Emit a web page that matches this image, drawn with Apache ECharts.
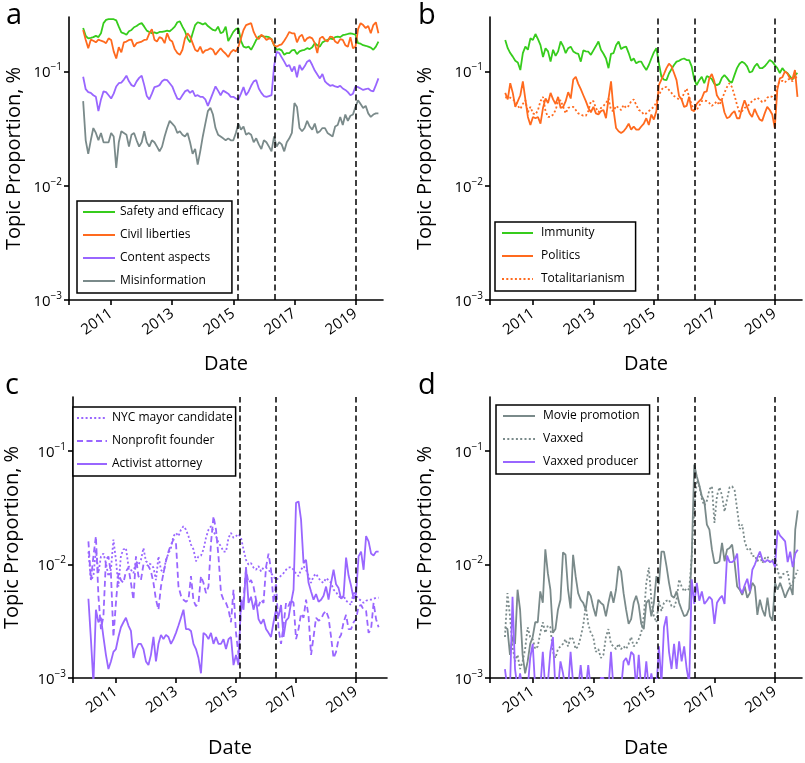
<!DOCTYPE html>
<html><head><meta charset="utf-8">
<script src="https://cdn.jsdelivr.net/npm/echarts@6/dist/echarts.min.js"></script>
<style>html,body{margin:0;padding:0;background:#fff}#c{width:805px;height:763px}</style>
</head><body><div id="c"></div>
<script>
// ---------------- data ----------------
const startYear = 2010, startMonth = 2;          // monthly series start Feb 2010
const eventDates = [2015.13, 2016.34, 2019.0];   // dashed vertical lines
const yearLabels = [2011, 2013, 2015, 2017, 2019];
const yTicks = [0.001, 0.01, 0.1];

// panel a
const safety = [0.24,0.205,0.195,0.197,0.2,0.205,0.2,0.216,0.265,0.283,0.287,0.287,0.287,0.28,0.247,0.22,0.216,0.21,0.225,0.231,0.244,0.25,0.26,0.265,0.247,0.228,0.222,0.216,0.22,0.216,0.222,0.222,0.225,0.228,0.225,0.235,0.247,0.27,0.275,0.247,0.225,0.195,0.18,0.216,0.255,0.27,0.265,0.258,0.265,0.25,0.24,0.231,0.228,0.247,0.216,0.222,0.247,0.185,0.202,0.222,0.235,0.24,0.185,0.165,0.162,0.165,0.155,0.17,0.189,0.202,0.205,0.202,0.202,0.2,0.192,0.17,0.155,0.157,0.153,0.14,0.145,0.145,0.153,0.155,0.142,0.15,0.153,0.155,0.16,0.157,0.163,0.177,0.17,0.165,0.18,0.185,0.189,0.195,0.192,0.2,0.202,0.2,0.208,0.21,0.213,0.216,0.213,0.21,0.177,0.175,0.17,0.168,0.165,0.162,0.155,0.165,0.183];
const civil = [0.231,0.19,0.16,0.19,0.186,0.18,0.19,0.186,0.183,0.177,0.195,0.189,0.15,0.13,0.163,0.147,0.18,0.183,0.189,0.19,0.165,0.177,0.18,0.183,0.189,0.19,0.216,0.235,0.19,0.183,0.2,0.195,0.177,0.216,0.19,0.183,0.157,0.145,0.14,0.155,0.195,0.216,0.202,0.177,0.155,0.15,0.165,0.145,0.153,0.155,0.16,0.155,0.14,0.15,0.16,0.15,0.143,0.134,0.147,0.155,0.15,0.165,0.195,0.231,0.255,0.26,0.265,0.222,0.2,0.192,0.21,0.202,0.189,0.195,0.192,0.17,0.165,0.17,0.173,0.186,0.202,0.222,0.216,0.216,0.18,0.202,0.21,0.183,0.195,0.2,0.195,0.177,0.145,0.195,0.202,0.189,0.183,0.202,0.2,0.183,0.177,0.192,0.189,0.17,0.165,0.2,0.16,0.165,0.235,0.265,0.255,0.24,0.25,0.216,0.255,0.27,0.216];
const content = [0.09,0.07,0.066,0.065,0.062,0.06,0.045,0.057,0.067,0.066,0.062,0.058,0.064,0.074,0.079,0.08,0.085,0.092,0.082,0.076,0.074,0.082,0.088,0.092,0.076,0.061,0.057,0.064,0.073,0.074,0.076,0.082,0.085,0.084,0.079,0.074,0.065,0.058,0.057,0.062,0.067,0.069,0.065,0.068,0.061,0.062,0.06,0.06,0.057,0.05,0.057,0.065,0.074,0.068,0.062,0.068,0.066,0.064,0.06,0.06,0.058,0.057,0.064,0.073,0.062,0.067,0.075,0.082,0.084,0.071,0.065,0.061,0.06,0.061,0.062,0.111,0.149,0.145,0.133,0.122,0.111,0.114,0.1,0.111,0.089,0.114,0.103,0.111,0.122,0.126,0.114,0.102,0.094,0.087,0.095,0.082,0.078,0.075,0.076,0.074,0.073,0.075,0.071,0.069,0.066,0.062,0.064,0.074,0.073,0.071,0.069,0.07,0.071,0.068,0.067,0.076,0.087];
const misinfo = [0.055,0.025,0.019,0.025,0.032,0.029,0.025,0.029,0.024,0.024,0.024,0.029,0.027,0.0143,0.024,0.03,0.029,0.028,0.022,0.028,0.029,0.025,0.022,0.024,0.03,0.024,0.022,0.025,0.024,0.022,0.02,0.022,0.027,0.032,0.037,0.035,0.033,0.029,0.03,0.028,0.027,0.029,0.024,0.019,0.021,0.0153,0.02,0.027,0.035,0.045,0.048,0.042,0.032,0.028,0.027,0.026,0.025,0.026,0.025,0.025,0.029,0.035,0.031,0.033,0.028,0.029,0.028,0.024,0.026,0.023,0.021,0.025,0.024,0.022,0.02,0.027,0.022,0.024,0.023,0.02,0.024,0.026,0.029,0.053,0.049,0.032,0.03,0.032,0.037,0.033,0.031,0.035,0.029,0.03,0.032,0.032,0.029,0.028,0.027,0.033,0.034,0.04,0.034,0.042,0.037,0.041,0.042,0.049,0.056,0.052,0.048,0.05,0.043,0.04,0.042,0.043,0.043];

// panel b
const immunity = [0.189,0.16,0.145,0.135,0.124,0.12,0.103,0.145,0.165,0.155,0.195,0.189,0.213,0.192,0.17,0.134,0.16,0.15,0.122,0.155,0.137,0.15,0.183,0.167,0.145,0.16,0.165,0.15,0.145,0.143,0.122,0.153,0.15,0.149,0.14,0.153,0.167,0.183,0.155,0.143,0.13,0.107,0.143,0.145,0.17,0.183,0.157,0.163,0.165,0.145,0.124,0.13,0.118,0.122,0.122,0.111,0.103,0.114,0.13,0.147,0.16,0.118,0.09,0.085,0.084,0.096,0.105,0.114,0.122,0.124,0.128,0.13,0.126,0.126,0.111,0.086,0.076,0.084,0.09,0.079,0.091,0.089,0.086,0.078,0.076,0.078,0.088,0.093,0.088,0.082,0.08,0.093,0.107,0.117,0.122,0.118,0.111,0.098,0.1,0.111,0.117,0.107,0.107,0.111,0.118,0.126,0.122,0.114,0.107,0.097,0.107,0.1,0.097,0.091,0.085,0.093,0.097];
const politics = [0.065,0.057,0.079,0.065,0.049,0.055,0.062,0.082,0.057,0.04,0.034,0.04,0.039,0.04,0.035,0.048,0.058,0.053,0.065,0.057,0.052,0.06,0.048,0.049,0.055,0.066,0.058,0.085,0.09,0.078,0.07,0.062,0.055,0.048,0.044,0.049,0.043,0.042,0.045,0.046,0.039,0.058,0.082,0.046,0.032,0.03,0.029,0.03,0.032,0.035,0.031,0.033,0.031,0.031,0.033,0.035,0.039,0.034,0.042,0.038,0.045,0.076,0.085,0.095,0.107,0.117,0.111,0.097,0.084,0.061,0.057,0.049,0.05,0.06,0.046,0.045,0.052,0.055,0.058,0.066,0.067,0.087,0.095,0.082,0.062,0.057,0.056,0.044,0.039,0.04,0.043,0.045,0.039,0.039,0.048,0.056,0.049,0.043,0.04,0.047,0.042,0.038,0.037,0.043,0.049,0.046,0.042,0.032,0.069,0.087,0.089,0.1,0.096,0.087,0.086,0.103,0.06];
const totalitarianism = [0.059,0.06,0.059,0.057,0.055,0.05,0.047,0.052,0.056,0.044,0.049,0.043,0.042,0.046,0.055,0.06,0.045,0.04,0.04,0.042,0.046,0.055,0.056,0.049,0.043,0.048,0.049,0.049,0.046,0.043,0.042,0.041,0.041,0.045,0.055,0.055,0.048,0.044,0.048,0.05,0.053,0.058,0.046,0.045,0.05,0.048,0.046,0.051,0.048,0.05,0.055,0.057,0.051,0.046,0.045,0.042,0.043,0.045,0.047,0.049,0.054,0.062,0.069,0.073,0.073,0.069,0.065,0.061,0.059,0.057,0.057,0.065,0.071,0.06,0.051,0.046,0.046,0.05,0.055,0.056,0.055,0.053,0.05,0.052,0.055,0.051,0.057,0.065,0.073,0.079,0.073,0.062,0.051,0.044,0.045,0.048,0.049,0.052,0.055,0.057,0.059,0.057,0.054,0.055,0.059,0.061,0.06,0.057,0.076,0.082,0.083,0.08,0.085,0.086,0.082,0.092,0.085];

// panel c
const nycMayor = [0.013,0.0073,0.0079,0.0136,0.0084,0.0118,0.0125,0.0103,0.0079,0.009,0.0166,0.011,0.0064,0.012,0.0136,0.014,0.0097,0.009,0.0084,0.0107,0.01,0.011,0.014,0.0107,0.0103,0.01,0.0094,0.0073,0.0118,0.009,0.0084,0.011,0.0125,0.014,0.0178,0.019,0.0178,0.0203,0.0218,0.0203,0.0178,0.015,0.0136,0.0107,0.0118,0.012,0.0136,0.0172,0.0203,0.0218,0.0196,0.0178,0.0155,0.0145,0.013,0.013,0.0172,0.019,0.0172,0.0178,0.0186,0.0172,0.0136,0.011,0.01,0.0103,0.0094,0.009,0.0097,0.0087,0.0094,0.0094,0.009,0.0084,0.0079,0.0073,0.0076,0.008,0.0084,0.009,0.0094,0.0095,0.009,0.0083,0.0079,0.009,0.0097,0.009,0.0079,0.0069,0.0079,0.0083,0.0076,0.0071,0.0069,0.0076,0.0073,0.0069,0.006,0.0057,0.0053,0.005,0.0053,0.0048,0.0046,0.0044,0.0058,0.0053,0.005,0.0048,0.0046,0.0048,0.0049,0.0049,0.005,0.0051,0.0051];
const nonprofit = [0.016,0.0073,0.0118,0.0178,0.0053,0.0027,0.0035,0.011,0.0118,0.0084,0.0023,0.0046,0.0084,0.0073,0.0069,0.0087,0.0094,0.0069,0.0049,0.0118,0.0079,0.0073,0.01,0.01,0.0097,0.0087,0.0069,0.0049,0.004,0.0064,0.0084,0.0107,0.013,0.015,0.0166,0.0155,0.0064,0.0053,0.0049,0.0047,0.0049,0.0079,0.0048,0.0043,0.0046,0.0079,0.0069,0.0056,0.0064,0.0155,0.0267,0.0203,0.0118,0.0056,0.0049,0.0046,0.004,0.0031,0.006,0.0025,0.0016,0.004,0.0049,0.009,0.0069,0.0073,0.0064,0.0049,0.0043,0.0049,0.0046,0.0095,0.0125,0.009,0.0046,0.0069,0.0027,0.002,0.0029,0.0046,0.0043,0.0049,0.0046,0.0022,0.0027,0.0037,0.0034,0.0049,0.0035,0.0016,0.0023,0.0034,0.0032,0.0033,0.0037,0.0039,0.0034,0.0023,0.0015,0.0017,0.0022,0.0024,0.0031,0.0036,0.0027,0.0027,0.0031,0.0033,0.0043,0.0044,0.004,0.0039,0.0025,0.0027,0.0046,0.0033,0.0028];
const activist = [0.005,0.0022,0.0009,0.004,0.0031,0.0034,0.0023,0.0016,0.0012,0.0014,0.0017,0.0018,0.0023,0.0028,0.0031,0.0034,0.0029,0.0026,0.0015,0.0018,0.002,0.002,0.0018,0.0014,0.0013,0.0016,0.0023,0.0014,0.002,0.0024,0.0022,0.0024,0.0023,0.002,0.0022,0.0025,0.0029,0.0034,0.004,0.0027,0.0027,0.0026,0.002,0.0018,0.0015,0.0011,0.0025,0.0024,0.0022,0.0025,0.002,0.0023,0.002,0.002,0.0022,0.0018,0.0022,0.0023,0.0013,0.0016,0.0013,0.0049,0.004,0.0095,0.0046,0.0052,0.004,0.0049,0.0033,0.003,0.0033,0.0027,0.0025,0.0023,0.0031,0.004,0.0035,0.0044,0.0023,0.0032,0.0034,0.0046,0.006,0.035,0.036,0.0249,0.0103,0.011,0.0069,0.0058,0.0049,0.0055,0.0047,0.0049,0.0053,0.0064,0.0049,0.0069,0.009,0.0067,0.0062,0.005,0.0053,0.0115,0.008,0.0065,0.005,0.0055,0.0118,0.013,0.009,0.0178,0.016,0.0125,0.012,0.013,0.013];

// panel d
const moviePromo = [0.0028,0.0027,0.0016,0.0023,0.002,0.006,0.004,0.0016,0.0011,0.0014,0.002,0.0023,0.0031,0.0031,0.0058,0.0046,0.0136,0.0084,0.006,0.0025,0.0027,0.004,0.0049,0.0128,0.0122,0.006,0.0041,0.0122,0.0079,0.0056,0.0049,0.0046,0.004,0.0058,0.0053,0.0042,0.0035,0.0049,0.0046,0.0044,0.0035,0.0046,0.0058,0.0046,0.006,0.0097,0.0087,0.0056,0.004,0.003,0.0033,0.0046,0.0053,0.0044,0.003,0.0027,0.0046,0.0049,0.0035,0.0046,0.0079,0.0067,0.013,0.013,0.0097,0.0069,0.0053,0.0051,0.0058,0.0046,0.004,0.0035,0.0036,0.0041,0.0118,0.076,0.06,0.05,0.04,0.036,0.0225,0.0203,0.0136,0.0103,0.0103,0.0107,0.0155,0.0107,0.0136,0.014,0.015,0.0103,0.0064,0.006,0.0054,0.0064,0.0051,0.0056,0.0069,0.0064,0.0036,0.0049,0.004,0.0035,0.0051,0.0035,0.0032,0.0069,0.006,0.0069,0.006,0.0051,0.0058,0.0064,0.0054,0.0203,0.03];
const vaxxed = [0.0023,0.0056,0.0035,0.0019,0.0014,0.0016,0.0012,0.0014,0.0018,0.0028,0.0023,0.0022,0.0018,0.0019,0.0025,0.0031,0.0025,0.0029,0.0028,0.0017,0.0015,0.0018,0.0019,0.002,0.0022,0.0019,0.0023,0.0022,0.0018,0.0019,0.0023,0.0029,0.0043,0.003,0.0025,0.0023,0.0017,0.0018,0.0015,0.0016,0.0023,0.0027,0.002,0.0019,0.0018,0.002,0.0018,0.0019,0.0018,0.002,0.0023,0.0019,0.002,0.0022,0.0025,0.0035,0.0069,0.0094,0.0049,0.0035,0.0031,0.0048,0.0039,0.0046,0.0048,0.0049,0.0043,0.0042,0.0049,0.0074,0.0064,0.0058,0.0062,0.006,0.0118,0.0306,0.055,0.049,0.0378,0.0331,0.0365,0.046,0.049,0.0233,0.0405,0.048,0.0405,0.0293,0.0376,0.048,0.049,0.045,0.0306,0.0206,0.0225,0.016,0.0136,0.014,0.0118,0.012,0.0107,0.0118,0.0103,0.0114,0.0118,0.0105,0.0109,0.0118,0.009,0.0074,0.0082,0.0084,0.0087,0.0064,0.0069,0.0079,0.009];
const vaxxedProducer = [0.0012,0.0008,0.0008,0.0052,0.0012,0.0008,0.0011,0.0008,0.0008,0.0008,0.0015,0.002,0.0008,0.0008,0.0008,0.0017,0.0008,0.0009,0.0017,0.0023,0.0008,0.0008,0.0014,0.0011,0.0008,0.0008,0.0017,0.0009,0.0008,0.0008,0.0013,0.0008,0.0008,0.0013,0.0008,0.0008,0.0008,0.0008,0.001,0.001,0.0008,0.0008,0.0017,0.0008,0.0008,0.0008,0.0008,0.0014,0.0015,0.0013,0.0017,0.0016,0.0008,0.0016,0.0008,0.0008,0.0014,0.0008,0.0011,0.0008,0.0008,0.0019,0.0009,0.0028,0.0035,0.0017,0.0012,0.002,0.0012,0.0021,0.0014,0.0019,0.0012,0.0009,0.0074,0.0045,0.0069,0.0048,0.0058,0.0045,0.0048,0.0052,0.0049,0.003,0.0046,0.005,0.0053,0.0045,0.012,0.0105,0.0105,0.011,0.0125,0.0062,0.0056,0.0066,0.0075,0.0058,0.009,0.01,0.0115,0.013,0.011,0.0105,0.011,0.0105,0.0108,0.0095,0.02,0.018,0.017,0.016,0.0105,0.013,0.0095,0.0125,0.0135];

// ---------------- styling ----------------
const FONT = '"Open Sans", "Noto Sans", sans-serif';
const GREEN = '#36cc1c', ORANGE = '#ff6a1e', PURPLE = '#9966ff', GRAY = '#7a8a8a';
const DOT = [2, 2.3], DASH = [6, 3.5];

function withDates(vals) {
  return vals.map((v, i) => [startYear + (startMonth - 1 + i) / 12, v]);
}

const panels = [
  { letter: 'a', letterPos: [6, 1], grid: { left: 69, top: 17, width: 314, height: 283 },
    xr: [2009.62, 2019.9], gapY: 45, gapX: 54, legendPos: [77, 201],
    legendPad: [4, 8, 5, 5], legendIconW: 32, legendTextPad: 0,
    series: [['Safety and efficacy', safety, GREEN, 'solid'], ['Civil liberties', civil, ORANGE, 'solid'],
             ['Content aspects', content, PURPLE, 'solid'], ['Misinformation', misinfo, GRAY, 'solid']] },
  { letter: 'b', letterPos: [418, 1], grid: { left: 490, top: 17, width: 312, height: 283 },
    xr: [2009.58, 2019.9], gapY: 55, gapX: 54, legendPos: [495, 222],
    legendPad: [4, 11, 5, 6], legendIconW: 31, legendTextPad: 3,
    series: [['Immunity', immunity, GREEN, 'solid'], ['Politics', politics, ORANGE, 'solid'],
             ['Totalitarianism', totalitarianism, ORANGE, DOT]] },
  { letter: 'c', letterPos: [5, 371], grid: { left: 73, top: 397, width: 314, height: 281 },
    xr: [2009.57, 2020.03], gapY: 51, gapX: 60, legendPos: [73, 407],
    legendPad: [4, 3, 5, 3], legendIconW: 30, legendTextPad: 0,
    series: [['NYC mayor candidate', nycMayor, PURPLE, DOT], ['Nonprofit founder', nonprofit, PURPLE, DASH],
             ['Activist attorney', activist, PURPLE, 'solid']] },
  { letter: 'd', letterPos: [418, 371], grid: { left: 490, top: 397, width: 312, height: 281 },
    xr: [2009.59, 2019.89], gapY: 55, gapX: 60, legendPos: [496, 405],
    legendPad: [4, 10, 5, 6], legendIconW: 32, legendTextPad: 3,
    series: [['Movie promotion', moviePromo, GRAY, 'solid'], ['Vaxxed', vaxxed, GRAY, DOT],
             ['Vaxxed producer', vaxxedProducer, PURPLE, 'solid']] }
];

const option = {
  animation: false,
  backgroundColor: '#fff',
  textStyle: { fontFamily: FONT, color: '#000' },
  title: panels.map(p => ({ text: p.letter, left: p.letterPos[0], top: p.letterPos[1], padding: 0,
    textStyle: { fontFamily: FONT, fontSize: 29, fontWeight: 'normal', color: '#000' } })),
  grid: panels.map(p => Object.assign({ containLabel: false, outerBoundsMode: 'none' }, p.grid)),
  xAxis: panels.map((p, i) => ({
    type: 'value', gridIndex: i, min: p.xr[0], max: p.xr[1],
    name: 'Date', nameLocation: 'middle', nameGap: p.gapX, nameMoveOverlap: false,
    nameTextStyle: { fontFamily: FONT, fontSize: 20, color: '#000' },
    axisLine: { show: true, onZero: false, lineStyle: { color: '#000', width: 1.6 } },
    axisTick: { show: true, inside: false, length: 5, customValues: [p.xr[0]].concat(yearLabels),
      lineStyle: { color: '#000', width: 1.6 } },
    axisLabel: { customValues: yearLabels, rotate: 35, fontSize: 15, fontFamily: FONT, color: '#000', margin: 12,
      formatter: v => String(Math.round(v)) },
    splitLine: { show: false }
  })),
  yAxis: panels.map((p, i) => ({
    type: 'log', logBase: 10, gridIndex: i, min: 0.001, max: 0.3,
    name: 'Topic Proportion, %', nameLocation: 'middle', nameGap: p.gapY, nameMoveOverlap: false,
    nameTextStyle: { fontFamily: FONT, fontSize: 20, color: '#000' },
    axisLine: { show: true, lineStyle: { color: '#000', width: 1.6 } },
    axisTick: { show: true, length: 5, customValues: yTicks, lineStyle: { color: '#000', width: 1.6 } },
    minorTick: { show: false },
    axisLabel: { customValues: yTicks, margin: 7, fontFamily: FONT, color: '#000',
      formatter: v => '{b|10}{s|\u2212' + Math.round(-Math.log10(v)) + '}',
      rich: { b: { fontSize: 15, lineHeight: 18, verticalAlign: 'bottom', fontFamily: FONT, color: '#000' },
              s: { fontSize: 10, lineHeight: 12, verticalAlign: 'bottom', padding: [0, 0, 8, 0], fontFamily: FONT, color: '#000' } } },
    splitLine: { show: false }
  })),
  legend: panels.map(p => ({
    orient: 'vertical', left: p.legendPos[0], top: p.legendPos[1],
    data: p.series.map(s => s[0]),
    itemWidth: p.legendIconW, itemHeight: 14, itemGap: 9, padding: p.legendPad,
    borderColor: '#000', borderWidth: 1.5, borderRadius: 0, backgroundColor: '#fff',
    selectedMode: false, itemStyle: { opacity: 0 },
    textStyle: { fontFamily: FONT, fontSize: 12, color: '#000', lineHeight: 14, padding: [0, 0, 0, p.legendTextPad] }
  })),
  series: []
};

panels.forEach((p, i) => {
  p.series.forEach((s, k) => {
    const ser = {
      type: 'line', name: s[0], xAxisIndex: i, yAxisIndex: i,
      data: withDates(s[1]), symbol: 'none', showSymbol: false, clip: true,
      color: s[2], itemStyle: { color: s[2] },
      lineStyle: { color: s[2], width: 1.8, type: s[3] }
    };
    if (k === 0) {
      ser.markLine = { silent: true, symbol: ['none', 'none'], label: { show: false },
        lineStyle: { color: '#000', type: [6, 3.5], width: 1.5 },
        emphasis: { disabled: true },
        data: eventDates.map(d => ({ xAxis: d })) };
    }
    option.series.push(ser);
  });
});

const chart = echarts.init(document.getElementById('c'), null, { renderer: 'canvas' });
chart.setOption(option);
</script>
</body></html>
